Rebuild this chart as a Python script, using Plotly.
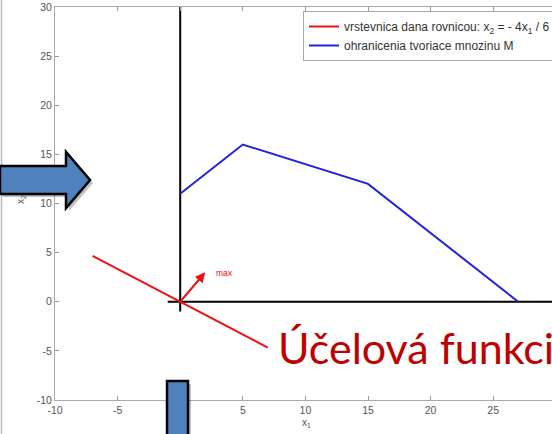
import plotly.graph_objects as go

W, H = 552, 434

# ---- data ----
red_x1 = [-7, 7]
red_x2 = [-4 * v / 6 for v in red_x1]
blue_x1 = [0, 5, 15, 27]
blue_x2 = [11, 16, 12, 0]
vaxis_x1 = [0, 0]
vaxis_x2 = [-1, 30]
haxis_x1 = [-1, 31]
haxis_x2 = [0, 0]
grad_tail = (0, 0)
grad_head = (2, 3)
x_ticks = [-10, -5, 0, 5, 10, 15, 20, 25, 30]
y_ticks = [-10, -5, 0, 5, 10, 15, 20, 25, 30]
x_tick_labels = [str(v) for v in x_ticks]
y_tick_labels = [str(v) for v in y_ticks]

legend_red = "vrstevnica dana rovnicou: x<sub>2</sub> = - 4x<sub>1</sub> / 6"
legend_blue = "ohranicenia tvoriace mnozinu M"


def px(x):
    return x / W


def py(y):
    return 1 - y / H


def path(points):
    return "M " + " L ".join(f"{px(a):.5f},{py(b):.5f}" for a, b in points) + " Z"


fig = go.Figure()
fig.add_trace(go.Scatter(x=vaxis_x1, y=vaxis_x2, mode="lines",
                         line=dict(color="black", width=2), showlegend=False, hoverinfo="skip"))
fig.add_trace(go.Scatter(x=haxis_x1, y=haxis_x2, mode="lines",
                         line=dict(color="black", width=2), showlegend=False, hoverinfo="skip"))
fig.add_trace(go.Scatter(x=red_x1, y=red_x2, mode="lines", name=legend_red,
                         line=dict(color="#ee1111", width=2), cliponaxis=False))
fig.add_trace(go.Scatter(x=blue_x1, y=blue_x2, mode="lines", name=legend_blue,
                         line=dict(color="#2222dd", width=2)))

x_left_px = 55
x_scale = 62.6 / 5  # px per unit
x_max = -10 + (W - x_left_px) / x_scale

fig.update_layout(
    width=W, height=H,
    margin=dict(l=0, r=0, t=0, b=0, autoexpand=False),
    paper_bgcolor="white", plot_bgcolor="white",
    font=dict(family="Liberation Sans, Arial", size=10, color="#555"),
    xaxis=dict(domain=[px(x_left_px), 1], range=[-10, x_max], tickvals=x_ticks,
               ticktext=x_tick_labels, ticklabeloverflow="allow",
               ticks="inside", ticklen=4, tickcolor="#999", showline=True, linecolor="#aaa",
               linewidth=1, mirror="ticks", showgrid=False, zeroline=False,
               tickfont=dict(size=10.5, color="#555")),
    yaxis=dict(domain=[py(400), py(7)], range=[-10, 30], tickvals=y_ticks,
               ticktext=y_tick_labels, ticklabeloverflow="allow",
               ticks="inside", ticklen=4, tickcolor="#999", showline=True, linecolor="#aaa",
               linewidth=1, mirror=False, showgrid=False, zeroline=False,
               tickfont=dict(size=10.5, color="#555")),
    legend=dict(x=px(303), y=py(11), xanchor="left", yanchor="top",
                bgcolor="white", bordercolor="#aaa", borderwidth=1,
                font=dict(size=12, color="#333"), tracegroupgap=0),
    showlegend=True,
)

annotations = [
    dict(x=px(306), y=py(423), xref="paper", yref="paper", text="x<sub>1</sub>",
         showarrow=False, xanchor="center", yanchor="middle",
         font=dict(size=10, color="#555")),
    dict(x=px(21), y=py(200), xref="paper", yref="paper", text="x<sub>2</sub>",
         showarrow=False, textangle=-90, xanchor="center", yanchor="middle",
         font=dict(size=10, color="#555")),
    dict(x=grad_head[0], y=grad_head[1], ax=grad_tail[0], ay=grad_tail[1],
         xref="x", yref="y", axref="x", ayref="y", text="", showarrow=True,
         arrowhead=2, arrowsize=1, arrowwidth=2, arrowcolor="#ee1111"),
    dict(x=px(214), y=py(273), xref="paper", yref="paper", text="max",
         showarrow=False, xanchor="left", yanchor="middle",
         font=dict(size=8.5, color="#ee1111")),
    dict(x=px(276), y=py(347), xref="paper", yref="paper", text="Účelová funkcia",
         showarrow=False, xanchor="left", yanchor="middle",
         font=dict(family="Lato, Open Sans", size=43, color="#C00000")),
]
fig.update_layout(annotations=annotations)

arrow_pts = [(0, 166), (66, 166), (66, 152), (90, 180), (66, 208), (66, 194), (0, 194)]
shadow_pts = [(a + 3, b + 3) for a, b in arrow_pts]
rect_pts = [(167, 381), (188, 381), (188, 440), (167, 440)]
rect_shadow = [(a + 3, b + 3) for a, b in rect_pts]

shapes = [
    dict(type="line", xref="paper", yref="paper", x0=px(1.5), x1=px(1.5), y0=0, y1=1,
         line=dict(color="#bbb", width=1.5), layer="above"),
    dict(type="path", xref="paper", yref="paper", path=path(shadow_pts),
         fillcolor="rgba(0,0,0,0.25)", line=dict(width=0), layer="above"),
    dict(type="path", xref="paper", yref="paper", path=path(arrow_pts),
         fillcolor="#4F81BD", line=dict(color="black", width=2.5), layer="above"),
    dict(type="path", xref="paper", yref="paper", path=path(rect_shadow),
         fillcolor="rgba(0,0,0,0.25)", line=dict(width=0), layer="above"),
    dict(type="path", xref="paper", yref="paper", path=path(rect_pts),
         fillcolor="#4F81BD", line=dict(color="black", width=2.5), layer="above"),
]
fig.update_layout(shapes=shapes)

post = (
    "var d=document.getElementById('{plot_id}');"
    "d.style.position='fixed';d.style.left='0px';d.style.top='0px';"
    "document.body.style.margin='0';document.body.style.overflow='hidden';"
    "document.documentElement.style.overflow='hidden';"
)

fig.write_html("out.html", config={"displayModeBar": False}, post_script=post)
